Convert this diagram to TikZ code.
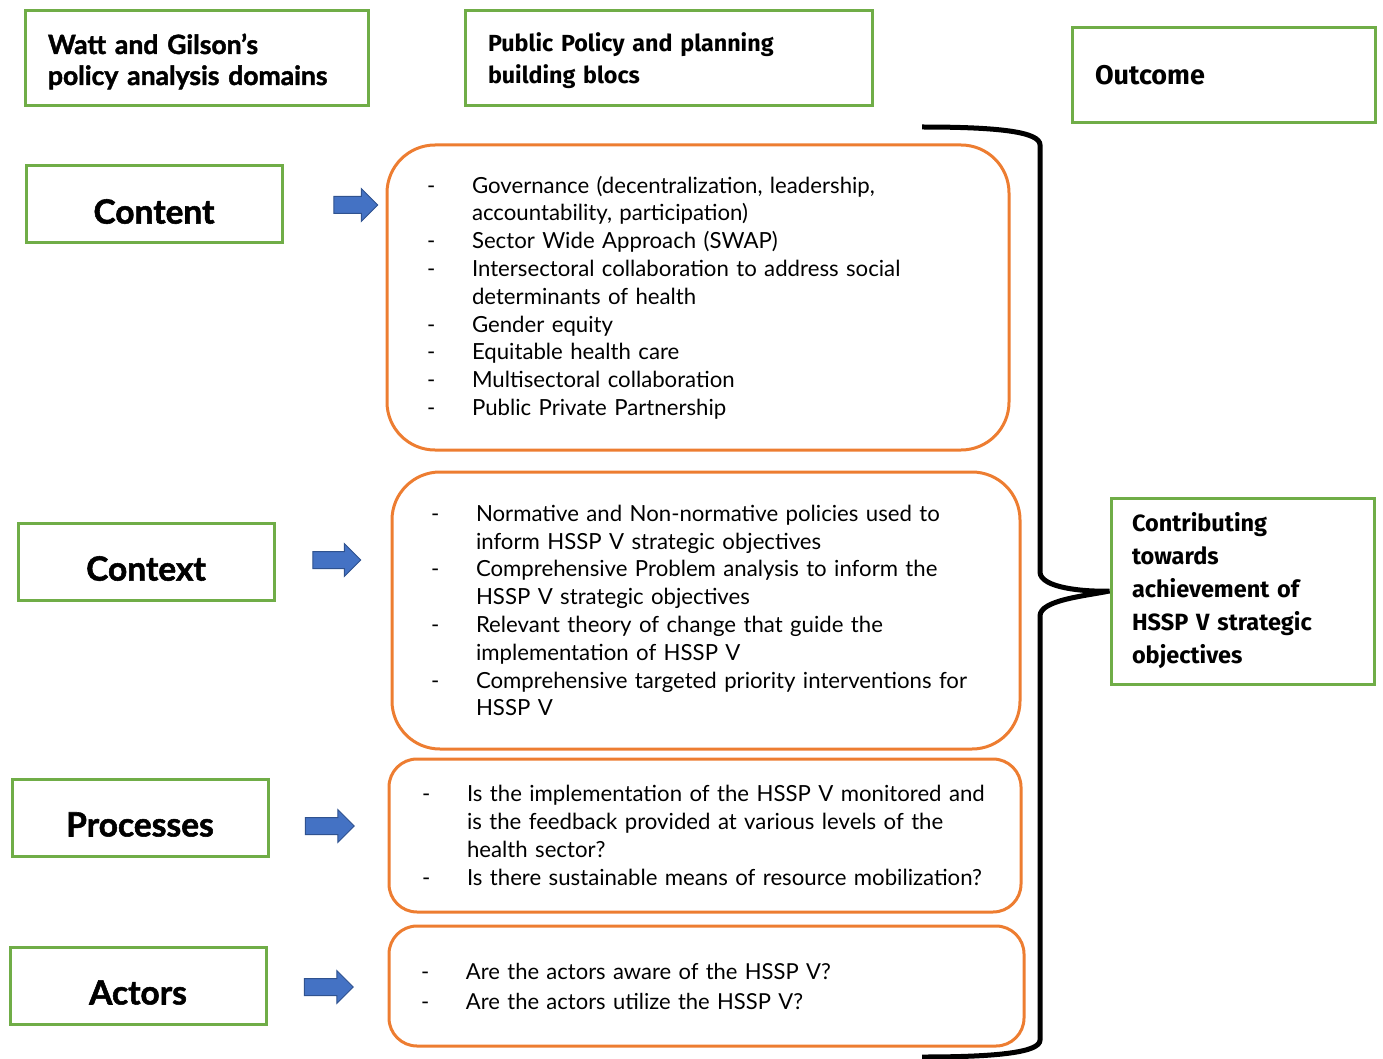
\documentclass[tikz,border=0pt]{standalone}
\usepackage{fontspec}
\setmainfont{Lato}
\newfontfamily\hvy{Lato}[FakeBold=1.6]
\newfontfamily\hdfont{Fira Sans}
\usetikzlibrary{shapes.arrows}
\definecolor{gboxc}{HTML}{70AD47}
\definecolor{oboxc}{HTML}{ED7D31}
\definecolor{barrowc}{HTML}{4472C4}
\definecolor{barrowd}{HTML}{2F528F}
\newcommand\itm[1]{\makebox[45pt][l]{-}#1}
\newcommand\cnt[1]{\hspace*{45pt}#1}
\newcommand\lowr[2]{\raisebox{-#1}[\height][\depth]{#2}}
\tikzset{
  gbox/.style={draw=gboxc, line width=3pt, rectangle, inner sep=0pt},
  dombox/.style={gbox, minimum width=256pt, minimum height=77pt, font=\hvy\bfseries\fontsize{33.5}{36}\selectfont},
  obox/.style={draw=oboxc, line width=3pt, rectangle, rounded corners=#1, align=left, inner ysep=0pt, font=\fontsize{22.2}{27.8}\selectfont},
  barrow/.style={single arrow, fill=barrowc, draw=barrowd, line width=1pt, inner xsep=0pt, inner ysep=8pt, single arrow head extend=8pt, minimum height=#1, text width=0pt},
}
\begin{document}
\begin{tikzpicture}[x=1pt,y=-1pt]
\useasboundingbox (0,0) rectangle (1383,1059);
% header boxes
\node[gbox, minimum width=343pt, minimum height=95pt, text width=297pt, align=left, font=\hvy\bfseries\fontsize{26.5}{31}\selectfont] (hdom) at (196.5,58.5) {\lowr{3pt}{Watt and Gilson’s}\\\lowr{3pt}{policy analysis domains}};
\node[gbox, minimum width=407pt, minimum height=95pt, text width=361pt, align=left, font=\hdfont\bfseries\fontsize{23.3}{32}\selectfont] (hbb) at (668.5,58.5) {\lowr{2pt}{Public Policy and planning}\\\lowr{2pt}{building blocs}};
\node[gbox, minimum width=303pt, minimum height=95pt, text width=257pt, align=left, font=\hdfont\bfseries\fontsize{27}{32}\selectfont] (hout) at (1223.5,75.5) {Outcome};
% domain boxes
\node[dombox] (content) at (154,204.5) {\lowr{7pt}{Content}};
\node[dombox] (context) at (146,561.5) {\lowr{7pt}{Context}};
\node[dombox] (processes) at (140,817.5) {\lowr{7pt}{Processes}};
\node[dombox] (actors) at (138,985.5) {\lowr{7pt}{Actors}};
% blue arrows
\node[barrow=44pt] (a1) at (351.5,205) {};
\node[barrow=48pt] (a2) at (332.5,560) {};
\node[barrow=49pt] (a3) at (325.5,826) {};
\node[barrow=49pt] (a4) at (324.5,987) {};
% orange boxes
\node[obox=48pt, minimum width=622pt, minimum height=305pt, inner xsep=40pt, text width=542pt] (b1) at (698,297.5) {%
\itm{Governance (decentralization, leadership,}\\
\cnt{accountability, participation)}\\
\itm{Sector Wide Approach (SWAP)}\\
\itm{Intersectoral collaboration to address social}\\
\cnt{determinants of health}\\
\itm{Gender equity}\\
\itm{Equitable health care}\\
\itm{Multisectoral collaboration}\\
\itm{Public Private Partnership}};
\node[obox=48pt, minimum width=628pt, minimum height=277pt, inner xsep=39pt, text width=550pt] (b2) at (706,610.5) {%
\itm{Normative and Non-normative policies used to}\\
\cnt{inform HSSP V strategic objectives}\\
\itm{Comprehensive Problem analysis to inform the}\\
\cnt{HSSP V strategic objectives}\\
\itm{Relevant theory of change that guide the}\\
\cnt{implementation of HSSP V}\\
\itm{Comprehensive targeted priority interventions for}\\
\cnt{HSSP V}};
\node[obox=28pt, minimum width=632pt, minimum height=153pt, inner xsep=33pt, text width=566pt] (b3) at (705,835.5) {%
\itm{Is the implementation of the HSSP V monitored and}\\
\cnt{is the feedback provided at various levels of the}\\
\cnt{health sector?}\\
\itm{Is there sustainable means of resource mobilization?}};
\node[obox=28pt, minimum width=635pt, minimum height=120pt, inner xsep=32pt, text width=571pt, font=\fontsize{22}{30}\selectfont] (b4) at (706.5,986) {%
\itm{Are the actors aware of the HSSP V?}\\
\itm{Are the actors utilize the HSSP V?}};
% outcome box
\node[gbox, minimum width=263pt, minimum height=186pt, text width=221pt, align=left, font=\hdfont\bfseries\fontsize{23.5}{33}\selectfont] (obj) at (1242.5,591) {Contributing\\towards\\achievement of\\HSSP V strategic\\objectives};
% brace
\coordinate (bt) at (922,127);
\coordinate (bb) at (922,1057);
\draw[line width=5pt] (bt) .. controls (1000,127) and (1040,132) .. (1040,145) -- (1040,572)
  .. controls (1040,588) and (1085,592) .. (obj.west)
  .. controls (1085,596) and (1040,600) .. (1040,616) -- (1040,1040)
  .. controls (1040,1052) and (1000,1057) .. (bb);
\end{tikzpicture}
\end{document}
